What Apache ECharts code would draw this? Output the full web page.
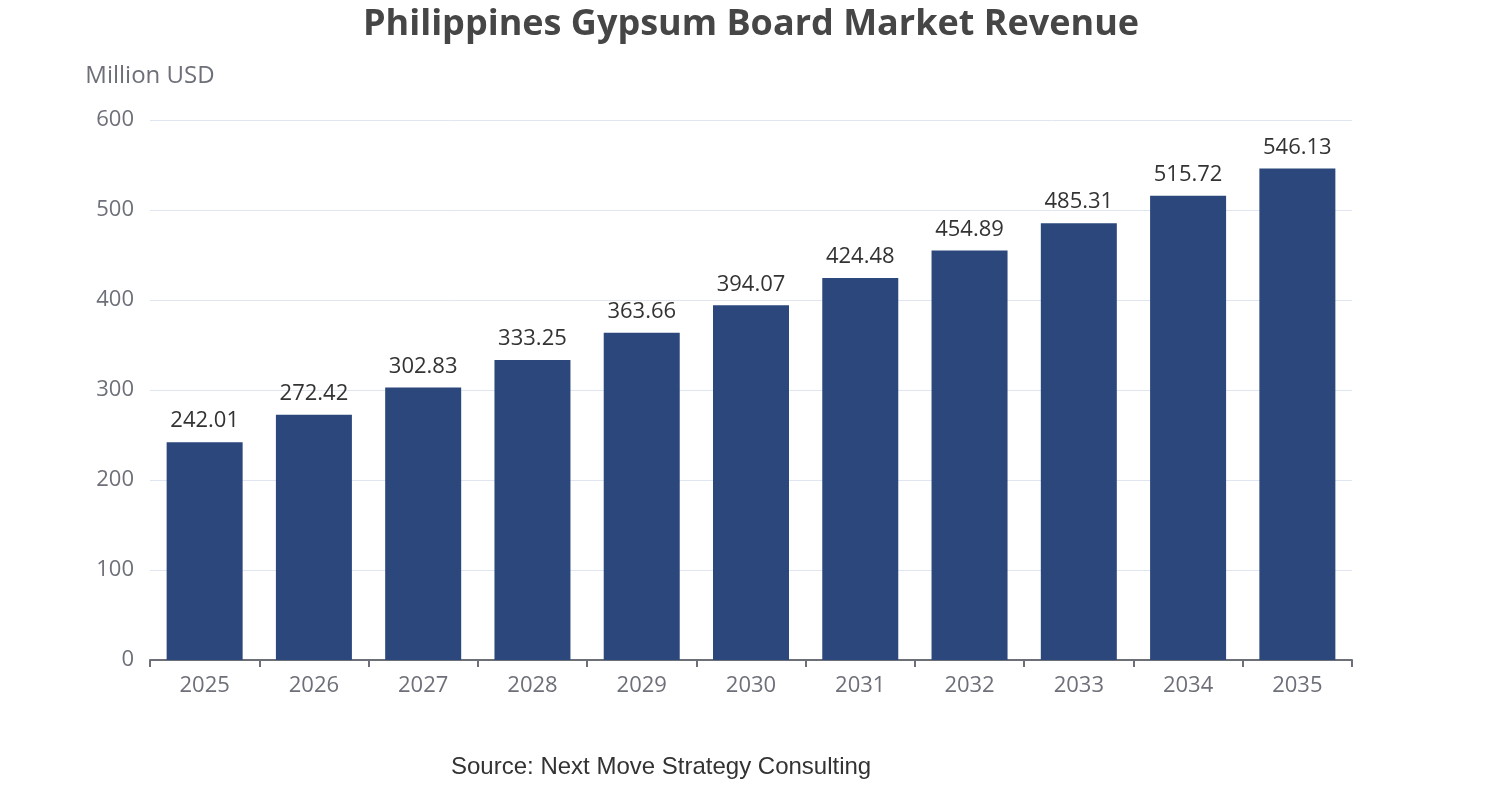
<!DOCTYPE html>
<html>
<head>
<meta charset="utf-8">
<script src="https://cdn.jsdelivr.net/npm/echarts@6/dist/echarts.min.js"></script>
<style>
  html, body { margin: 0; padding: 0; background: #fff; }
  #chart { width: 1502px; height: 800px; }
</style>
</head>
<body>
<div id="chart"></div>
<script>
  var years = ['2025', '2026', '2027', '2028', '2029', '2030', '2031', '2032', '2033', '2034', '2035'];
  var revenue = [242.01, 272.42, 302.83, 333.25, 363.66, 394.07, 424.48, 454.89, 485.31, 515.72, 546.13];

  var chart = echarts.init(document.getElementById('chart'));
  chart.setOption({
    textStyle: { fontFamily: '"Open Sans", "Noto Sans", sans-serif' },
    title: {
      text: 'Philippines Gypsum Board Market Revenue',
      left: 'center',
      top: 2,
      textStyle: { fontSize: 36, fontWeight: 'bold', color: '#464646' }
    },
    graphic: [{
      type: 'text',
      left: 451,
      top: 755,
      style: {
        text: 'Source: Next Move Strategy Consulting',
        font: '24px "Liberation Sans", Arial, sans-serif',
        fill: '#333'
      }
    }],
    grid: { left: 150, right: 150, top: 120, bottom: 140 },
    xAxis: {
      type: 'category',
      data: years,
      axisLine: { show: true, lineStyle: { color: '#6e7079', width: 2 } },
      axisTick: { show: true, alignWithLabel: false, length: 7, lineStyle: { color: '#6e7079', width: 2 } },
      axisLabel: { fontSize: 22, color: '#6e7079', margin: 15 }
    },
    yAxis: {
      type: 'value',
      min: 0,
      max: 600,
      interval: 100,
      name: 'Million USD',
      nameLocation: 'end',
      nameGap: 32,
      nameTextStyle: { fontSize: 24, color: '#6e7079', align: 'center' },
      axisLabel: { fontSize: 22, color: '#6e7079', margin: 16 },
      splitLine: { lineStyle: { color: '#e0e6f1' } }
    },
    series: [{
      type: 'bar',
      data: revenue,
      barWidth: 76,
      itemStyle: { color: '#2b477b' },
      label: {
        show: true,
        position: 'top',
        fontSize: 22,
        color: '#333',
        distance: 10
      }
    }]
  });
</script>
</body>
</html>
